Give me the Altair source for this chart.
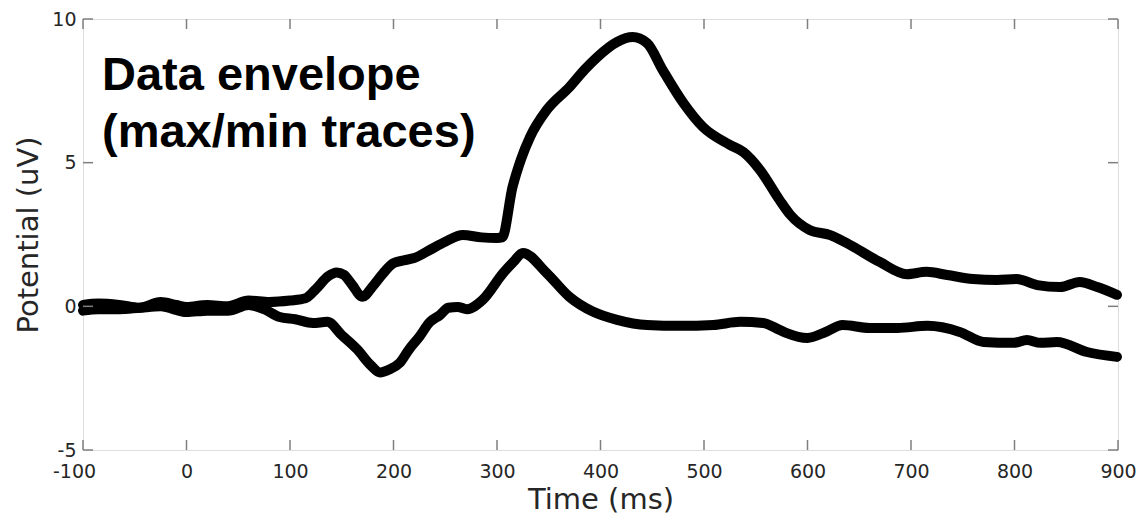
import altair as alt
import pandas as pd

# ---- data ----
max_t = [-100, -85, -65, -45, -25, -10, 0, 20, 40, 60, 80, 100, 115, 125, 137, 145, 152, 160, 170,
         180, 190, 200, 210, 220, 235, 250, 267, 285, 300, 305, 315, 323, 332, 348, 370, 385, 397,
         416, 431, 445, 460, 480, 499, 525, 538, 554, 573, 583, 602, 622, 638, 670, 696, 715, 735,
         760, 783, 802, 822, 844, 863, 880, 899]
max_v = [0.05, 0.1, 0.05, -0.05, 0.15, 0.05, -0.02, 0.05, 0.0, 0.2, 0.15, 0.2, 0.28, 0.6, 1.05, 1.18,
         1.1, 0.75, 0.33, 0.7, 1.15, 1.5, 1.6, 1.68, 1.96, 2.25, 2.48, 2.4, 2.38, 2.4, 4.15, 5.1, 5.9,
         6.83, 7.63, 8.25, 8.68, 9.2, 9.37, 9.16, 8.23, 7.08, 6.24, 5.62, 5.37, 4.75, 3.7, 3.2, 2.66,
         2.48, 2.2, 1.54, 1.12, 1.2, 1.09, 0.95, 0.92, 0.95, 0.74, 0.67, 0.85, 0.67, 0.4]

min_t = [-100, -85, -65, -45, -25, 0, 20, 40, 60, 75, 90, 105, 122, 136, 150, 165, 178, 187, 196,
         206, 215, 225, 235, 245, 253, 262, 271, 286, 306, 316, 325, 348, 370, 393, 416, 445, 477,
         509, 535, 557, 573, 580, 600, 617, 634, 660, 687, 716, 747, 770, 799, 812, 825, 841, 870, 899]
min_v = [-0.15, -0.1, -0.1, -0.05, 0.0, -0.2, -0.15, -0.15, 0.05, -0.1, -0.37, -0.45, -0.58, -0.54,
         -1.0, -1.5, -2.05, -2.3, -2.2, -1.97, -1.5, -1.06, -0.55, -0.3, -0.05, -0.02, -0.1, 0.22, 1.16,
         1.55, 1.86, 1.16, 0.33, -0.19, -0.47, -0.65, -0.68, -0.65, -0.54, -0.58, -0.82, -0.93, -1.1,
         -0.9, -0.65, -0.75, -0.75, -0.68, -0.89, -1.24, -1.27, -1.17, -1.27, -1.24, -1.59, -1.76]

x_ticks = [-100, 0, 100, 200, 300, 400, 500, 600, 700, 800, 900]
y_ticks = [-5, 0, 5, 10]
annotation = ["Data envelope", "(max/min traces)"]

W, H = 1035, 431
GRAY = "#7f7f7f"
LABEL = "#262626"

df = pd.concat([
    pd.DataFrame({"t": max_t, "v": max_v, "trace": "max"}),
    pd.DataFrame({"t": min_t, "v": min_v, "trace": "min"}),
])

xs = alt.Scale(domain=[-100, 900], nice=False, zero=False)
ys = alt.Scale(domain=[-5, 10], nice=False, zero=False)

x_axis = alt.Axis(
    values=x_ticks, ticks=False, domain=False, grid=False, labelFlush=False,
    labelExpr="'' + datum.value",
    labelFont="DejaVu Sans", labelFontSize=19, labelColor=LABEL, labelPadding=12,
    labelOffset={"condition": {"test": "datum.value == -100", "value": -9}, "value": 0},
    title="Time (ms)", titleFont="DejaVu Sans", titleFontSize=29, titleFontWeight="normal",
    titleColor=LABEL, titleBaseline="alphabetic", titleY=58, titleX=W / 2, titleAlign="center")
y_axis = alt.Axis(
    values=y_ticks, ticks=False, domain=False, grid=False, labelFlush=False,
    labelExpr="'' + datum.value",
    labelFont="DejaVu Sans", labelFontSize=19, labelColor=LABEL, labelPadding=7,
    title="Potential (uV)", titleFont="DejaVu Sans", titleFontSize=29, titleFontWeight="normal",
    titleColor=LABEL, titleBaseline="alphabetic", titleX=-46, titleY=H / 2, titleAlign="center",
    titleAngle=270)

X = alt.X("t:Q", scale=xs, axis=x_axis)
Y = alt.Y("v:Q", scale=ys, axis=y_axis)

lines = alt.Chart(df).mark_line(
    color="black", strokeWidth=10, strokeCap="round", strokeJoin="round", interpolate="monotone"
).encode(x=X, y=Y, detail="trace:N")

xt = pd.DataFrame({"t": x_ticks})
yt = pd.DataFrame({"v": y_ticks})

xb = alt.Chart(xt).mark_rule(color=GRAY, strokeWidth=1.5).encode(
    x=X, y=alt.value(H), y2=alt.value(H - 10))
xtop = alt.Chart(xt).mark_rule(color=GRAY, strokeWidth=1.5).encode(
    x=X, y=alt.value(0), y2=alt.value(10))
yl = alt.Chart(yt).mark_rule(color=GRAY, strokeWidth=1.5).encode(
    y=Y, x=alt.value(0), x2=alt.value(10))
yr = alt.Chart(yt).mark_rule(color=GRAY, strokeWidth=1.5).encode(
    y=Y, x=alt.value(W), x2=alt.value(W - 10))

txt = alt.Chart(pd.DataFrame({"a": [0]})).mark_text(
    align="left", baseline="alphabetic", font="Liberation Sans", fontWeight="bold",
    fontSize=47, lineHeight=57, color="black"
).encode(x=alt.value(19), y=alt.value(71), text=alt.value(annotation))

chart = alt.layer(lines, xb, xtop, yl, yr, txt).properties(
    width=W, height=H,
    autosize=alt.AutoSizeParams(type="none"),
    padding={"left": 83, "top": 19, "right": 24, "bottom": 70},
).configure_view(stroke=GRAY, strokeWidth=1.5).configure(background="white")

chart.save("out.html", embed_options={"renderer": "svg", "actions": False})
